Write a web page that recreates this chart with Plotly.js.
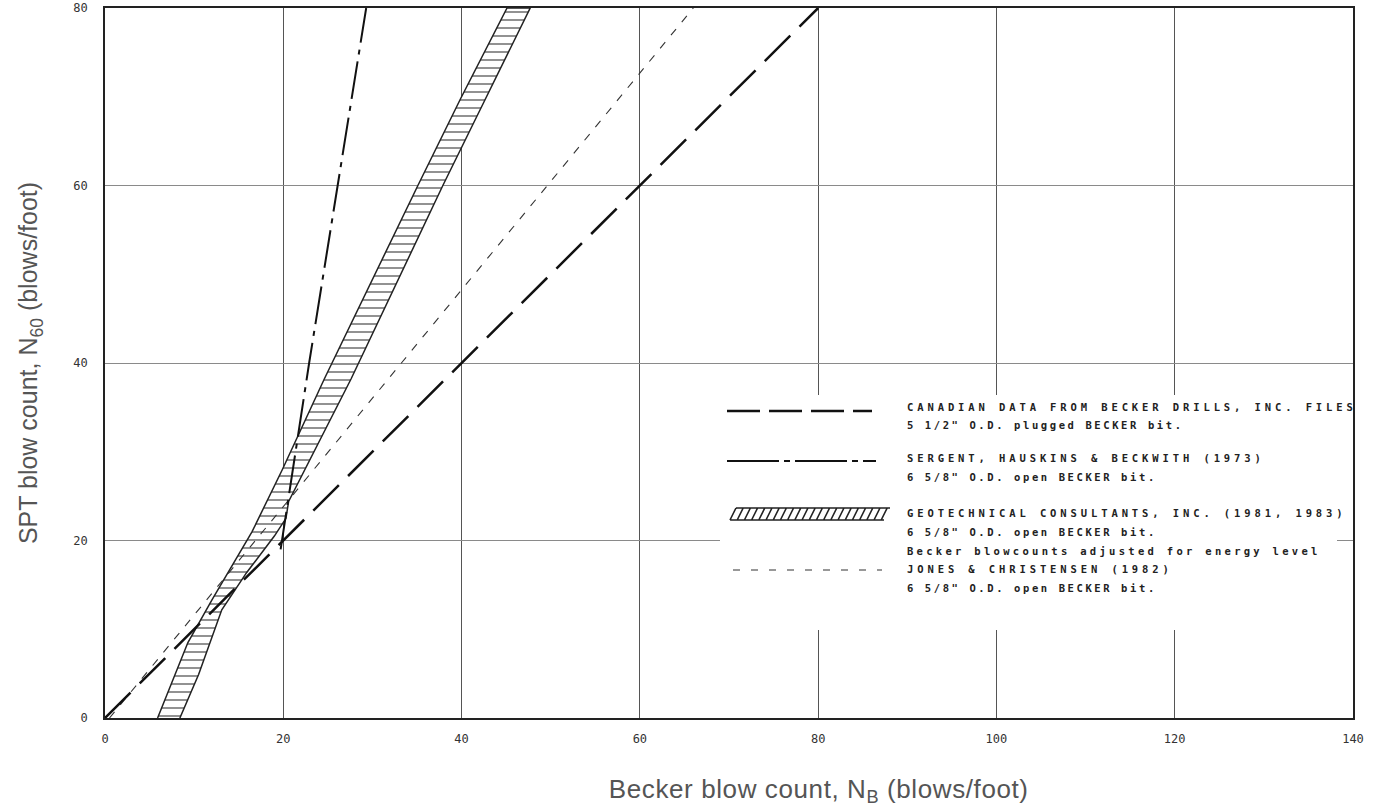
<!DOCTYPE html>
<html><head><meta charset="utf-8">
<script src="https://cdn.plot.ly/plotly-3.0.1.min.js"></script>
<style>
html,body{margin:0;padding:0;background:#fff;}
#chart{width:1380px;height:811px;}
</style></head><body><div id="chart"></div>
<script>
// ---- data ----
const xTicks = [0, 20, 40, 60, 80, 100, 120, 140];
const yTicks = [0, 20, 40, 60, 80];

const canadianX = [0, 80];
const canadianY = [0, 80];

const sergentX = [19.7, 22.9, 26.1, 29.3];
const sergentY = [19, 40, 60, 80];

const jonesX = [0.5, 66];
const jonesY = [0, 80];

const geoLeftX  = [5.9, 9.3, 12.0, 14.7, 16.5, 19.9, 24.6, 35.1, 39.9, 45.1];
const geoLeftY  = [0, 8.5, 13.3, 17.9, 21, 28, 38.2, 60, 69.8, 80];
const geoRightX = [8.4, 10.5, 13.1, 15.9, 19.0, 20.3, 20.6, 27.6, 37.9, 42.7, 47.7];
const geoRightY = [0, 4.9, 12.2, 16.4, 20.5, 22.5, 24.4, 38.2, 60, 69.8, 80];

const legendRows = [
  ["CANADIAN DATA FROM BECKER DRILLS, INC. FILES", "5 1/2\" O.D. plugged BECKER bit."],
  ["SERGENT, HAUSKINS & BECKWITH (1973)", "6 5/8\" O.D. open BECKER bit."],
  ["GEOTECHNICAL CONSULTANTS, INC. (1981, 1983)", "6 5/8\" O.D. open BECKER bit.", "Becker blowcounts adjusted for energy level"],
  ["JONES & CHRISTENSEN (1982)", "6 5/8\" O.D. open BECKER bit."]
];

// ---- layout helpers (pixel -> paper) ----
const PL = 105, PR = 1353, PT = 8, PB = 718;
const px = v => (v - PL) / (PR - PL);
const py = v => (PB - v) / (PB - PT);

const bandX = geoLeftX.concat(geoRightX.slice().reverse());
const bandY = geoLeftY.concat(geoRightY.slice().reverse());

const traces = [
  {x: bandX, y: bandY, mode: 'lines', fill: 'toself', fillcolor: '#ffffff',
   fillpattern: {shape: '-', fgcolor: '#555', bgcolor: '#ffffff', size: 8, solidity: 0.16},
   line: {color: '#222', width: 1.5}},
  {x: jonesX, y: jonesY, mode: 'lines', line: {color: '#333', width: 1.1, dash: '8px,9px'}},
  {x: canadianX, y: canadianY, mode: 'lines', line: {color: '#111', width: 2.5, dash: '36px,13px'}},
  {x: sergentX, y: sergentY, mode: 'lines', line: {color: '#111', width: 2, dash: '38px,7px,5px,7px'}}
];

// legend shapes
const shapes = [];
shapes.push({type: 'rect', xref: 'paper', yref: 'paper', x0: px(720), x1: px(1337), y0: py(630), y1: py(395),
  fillcolor: '#ffffff', line: {width: 0}, layer: 'above'});
shapes.push({type: 'line', xref: 'paper', yref: 'paper', x0: px(727), x1: px(872), y0: py(411), y1: py(411),
  line: {color: '#111', width: 2.5, dash: '33px,9px'}, layer: 'above'});
shapes.push({type: 'line', xref: 'paper', yref: 'paper', x0: px(727), x1: px(876), y0: py(461), y1: py(461),
  line: {color: '#111', width: 2, dash: '52px,5px,6px,5px'}, layer: 'above'});
let hp = '';
for (let i = 0; i < 22; i++) {
  const x0 = 730 + i * 7.2;
  hp += 'M' + px(x0) + ',' + py(520) + 'L' + px(x0 + 6) + ',' + py(508) + ' ';
}
hp += 'M' + px(730) + ',' + py(520) + 'L' + px(884) + ',' + py(520) + ' ';
hp += 'M' + px(736) + ',' + py(508) + 'L' + px(890) + ',' + py(508);
shapes.push({type: 'path', xref: 'paper', yref: 'paper', path: hp, line: {color: '#222', width: 1.6}, layer: 'above'});
shapes.push({type: 'line', xref: 'paper', yref: 'paper', x0: px(733), x1: px(882), y0: py(570), y1: py(570),
  line: {color: '#333', width: 1.1, dash: '7px,11px'}, layer: 'above'});

const rowY = [[407, 425], [458, 477], [513, 532, 551], [569, 588]];
const annotations = [];
legendRows.forEach((row, i) => {
  row.forEach((t, j) => {
    annotations.push({xref: 'paper', yref: 'paper', x: px(905), y: py(rowY[i][j]), xanchor: 'left', yanchor: 'middle',
      align: 'left', showarrow: false, text: t,
      font: {family: 'DejaVu Sans Mono', size: 10.5, color: '#222', weight: 700}});
  });
});
const nLegendAnn = annotations.length;
annotations.push({xref: 'paper', yref: 'paper', x: px(818), y: py(790), xanchor: 'center', yanchor: 'middle',
  showarrow: false, text: 'Becker blow count, N<sub>B</sub> (blows/foot)',
  font: {family: 'Liberation Sans', size: 26, color: '#555'}});

const tickFont = {family: 'DejaVu Sans Mono', size: 12, color: '#333'};
const layout = {
  width: 1380, height: 811,
  margin: {l: PL, r: 1380 - PR, t: PT, b: 811 - PB},
  paper_bgcolor: '#fff', plot_bgcolor: '#fff',
  showlegend: false, hovermode: false,
  xaxis: {range: [0, 140], tickvals: xTicks, ticktext: xTicks.map(String), showgrid: true, gridcolor: '#555', gridwidth: 1,
    zeroline: false, showline: true, mirror: true, linecolor: '#222', linewidth: 1.8, ticks: '',
    ticklabelstandoff: 9, tickfont: tickFont, fixedrange: true},
  yaxis: {range: [0, 80], tickvals: yTicks, ticktext: yTicks.map(String), showgrid: true, gridcolor: '#8a8a8a', gridwidth: 1,
    zeroline: false, showline: true, mirror: true, linecolor: '#222', linewidth: 1.8, ticks: '',
    ticklabelstandoff: 13, tickfont: tickFont, fixedrange: true,
    title: {text: 'SPT blow count, N<sub>60</sub> (blows/foot)', standoff: 28,
      font: {family: 'Liberation Sans', size: 25, color: '#555'}}},
  shapes: shapes,
  annotations: annotations
};

Plotly.newPlot('chart', traces, layout, {staticPlot: true, displayModeBar: false}).then(() => {
  const anns = document.querySelectorAll('#chart .annotation');
  anns.forEach((a, i) => {
    const t = a.querySelector('text');
    if (!t) return;
    if (i < nLegendAnn) {
      const s = t.textContent;
      let sp = '2.6px';
      if (s.indexOf('Becker blowcounts') === 0) sp = '3.3px';
      else if (s === s.toUpperCase()) sp = '3.9px';
      t.style.letterSpacing = sp;
    } else {
      t.style.letterSpacing = '0.6px';
    }
  });
});
</script></body></html>
